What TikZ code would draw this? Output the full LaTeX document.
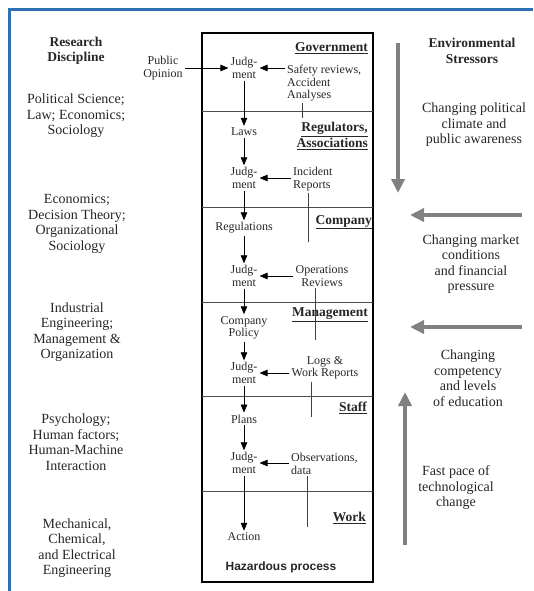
\documentclass[tikz,border=0pt]{standalone}
\usepackage{fontspec}
\setmainfont{Liberation Serif}
\newfontfamily\hazfont{Liberation Sans}
\usepackage{tikz}
\usetikzlibrary{arrows.meta}
\definecolor{frameblue}{RGB}{46,112,180}

\begin{document}
\begin{tikzpicture}[x=1pt, y=-1pt,
        every node/.style={text=black!85, inner sep=2pt},
        sidetext/.style={align=center, font=\fontsize{14}{15.5}\selectfont},
        headtext/.style={align=center, font=\fontsize{13.5}{15.5}\selectfont\bfseries},
        inbox/.style={font=\fontsize{12}{12.5}\selectfont},
        judg/.style={inbox, align=center},
        lvlname/.style={anchor=east, align=right, font=\fontsize{13.5}{14}\selectfont\bfseries},
        flow/.style={-{Triangle[length=8pt,width=6.5pt]}, line width=0.8pt},
        fback/.style={line width=0.8pt, black!75},
        stress/.style={-{Triangle[length=14pt,width=13pt]}, line width=4pt, black!50}]
            \useasboundingbox (0,0) rectangle (533,591);
            \draw[line width=3pt, frameblue]
                (9.5,591) -- (9.5,9.5) -- (533,9.5);
            \draw[line width=2.4pt]
                (202,33) rectangle (373,582);
            \foreach \y in {112,207,302,396,491}
                \draw[line width=1pt, black!70] (202,\y) -- (373,\y);

            \node[headtext] (rd)
                at (76,51) {Research\\Discipline};
            \node[sidetext] (polsci)
                at (76,116) {Political Science;\\Law; Economics;\\Sociology};
            \node[sidetext] (econ)
                at (77,224) {Economics;\\Decision Theory;\\Organizational\\Sociology};
            \node[sidetext] (indeng)
                at (77,332) {Industrial\\Engineering;\\Management \&\\Organization};
            \node[sidetext] (psych)
                at (76,442) {Psychology;\\Human factors;\\Human-Machine\\Interaction};
            \node[sidetext] (mech)
                at (77,548) {Mechanical,\\Chemical,\\and Electrical\\Engineering};

            \node[headtext] (env)
                at (472,51) {Environmental\\Stressors};
            \node[sidetext] (spol)
                at (474,125) {Changing political\\climate and\\public awareness};
            \node[sidetext] (smkt)
                at (471,264) {Changing market\\conditions\\and financial\\pressure};
            \node[sidetext] (scmp)
                at (468,378) {Changing\\competency\\and levels\\of education};
            \node[sidetext] (stch)
                at (456,488) {Fast pace of\\technological\\change};

            \coordinate (spolA) at (398,43);
            \coordinate (spolB) at (398,193);
            \coordinate (smktA) at (522,215);
            \coordinate (smktB) at (410,215);
            \coordinate (scmpA) at (522,327);
            \coordinate (scmpB) at (410,327);
            \coordinate (stchA) at (405,545);
            \coordinate (stchB) at (405,392);
            \draw[stress] (spolA) -- (spolB);
            \draw[stress] (smktA) -- (smktB);
            \draw[stress] (scmpA) -- (scmpB);
            \draw[stress] (stchA) -- (stchB);

            \node[lvlname] (gov)
                at (370,48) {\underline{Government}};
            \node[lvlname] (reg)
                at (370,136) {\underline{Regulators,}\\\underline{Associations}};
            \node[lvlname] (comp)
                at (374,222) {\underline{Company}};
            \node[lvlname] (mgmt)
                at (370,315) {\underline{Management}};
            \node[lvlname] (staff)
                at (369,408) {\underline{Staff}};
            \node[lvlname] (work)
                at (368,518) {\underline{Work}};

            \node[judg] (opinion)
                at (163,68) {Public\\Opinion};
            \node[judg] (j1)
                at (244,68) {Judg-\\ment};
            \node[inbox] (laws)
                at (244,132) {Laws};
            \node[judg] (j2)
                at (244,178) {Judg-\\ment};
            \node[inbox] (regs)
                at (244,228) {Regulations};
            \node[judg] (j3)
                at (244,276) {Judg-\\ment};
            \node[judg] (policy)
                at (244,328) {Company\\Policy};
            \node[judg] (j4)
                at (244,373) {Judg-\\ment};
            \node[inbox] (plans)
                at (244,419) {Plans};
            \node[judg] (j5)
                at (244,463) {Judg-\\ment};
            \node[inbox] (action)
                at (244,537) {Action};

            \node[inbox, align=left, anchor=north west] (safety)
                at (285,63) {Safety reviews,\\Accident\\Analyses};
            \node[inbox, align=left, anchor=north west] (incident)
                at (291,165) {Incident\\Reports};
            \node[judg] (ops)
                at (322,276) {Operations\\Reviews};
            \node[judg] (logs)
                at (325,368) {Logs \&\\Work Reports};
            \node[inbox, align=left, anchor=north west] (obs)
                at (289,451) {Observations,\\data};

            \node[font={\hazfont\fontsize{12}{14}\selectfont\bfseries}] (haz)
                at (281,567) {Hazardous process};

            \draw[flow] (opinion.east) -- (j1.west);
            \draw[flow] (safety.west |- j1) -- (j1.east);
            \draw[flow] (incident.west |- j2) -- (j2.east);
            \draw[flow] (ops.west |- j3) -- (j3.east);
            \draw[flow] (logs.west |- j4) -- (j4.east);
            \draw[flow] (obs.west |- j5) -- (j5.east);

            \draw[flow] (j1) -- (laws);
            \draw[flow] (laws) -- (j2);
            \draw[flow] (j2) -- (regs);
            \draw[flow] (regs) -- (j3);
            \draw[flow] (j3) -- (policy);
            \draw[flow] (policy) -- (j4);
            \draw[flow] (j4) -- (plans);
            \draw[flow] (plans) -- (j5);
            \draw[flow] (j5) -- (action);

            \coordinate (safetyEnd) at (302,118);
            \coordinate (incidentEnd) at (308,242);
            \coordinate (opsEnd) at (315,340);
            \coordinate (logsEnd) at (311,417);
            \coordinate (obsEnd) at (307,527);
            \draw[fback] (safety.south -| safetyEnd) -- (safetyEnd);
            \draw[fback] (incident.south -| incidentEnd) -- (incidentEnd);
            \draw[fback] (ops.south -| opsEnd) -- (opsEnd);
            \draw[fback] (logs.south -| logsEnd) -- (logsEnd);
            \draw[fback] (obs.south -| obsEnd) -- (obsEnd);
        \end{tikzpicture}
\end{document}
